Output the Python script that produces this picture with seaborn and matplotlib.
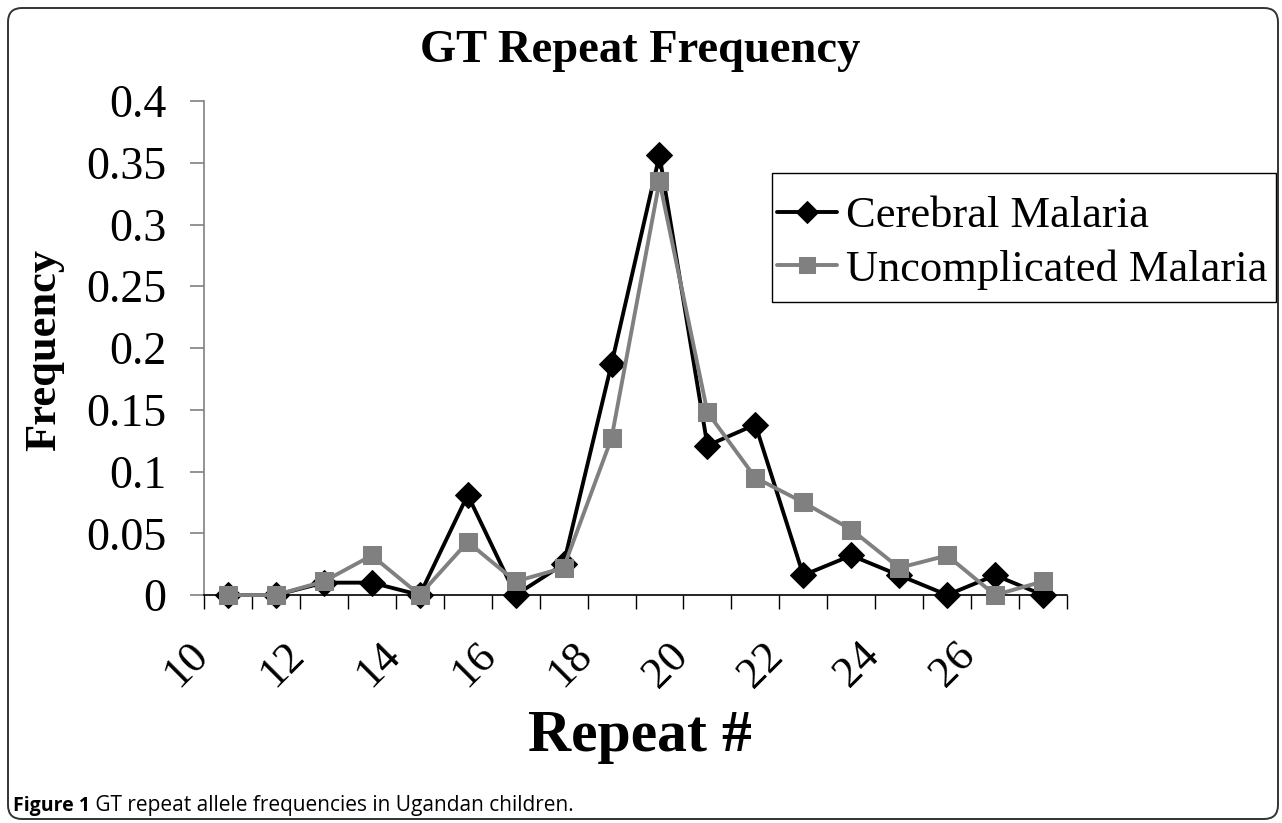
import matplotlib
matplotlib.use("Agg")
import matplotlib.pyplot as plt
import seaborn as sns
import pandas as pd
from matplotlib.patches import FancyBboxPatch, Rectangle
from matplotlib.transforms import ScaledTranslation
from matplotlib.ticker import FixedLocator, FixedFormatter

repeats = [10, 11, 12, 13, 14, 15, 16, 17, 18, 19, 20, 21, 22, 23, 24, 25, 26, 27]
cerebral = [0, 0, 0.010, 0.010, 0, 0.081, 0, 0.025, 0.187, 0.356, 0.121, 0.138,
            0.016, 0.032, 0.016, 0, 0.016, 0]
uncomplicated = [0, 0, 0.011, 0.032, 0, 0.043, 0.011, 0.022, 0.127, 0.335, 0.148, 0.095,
                 0.075, 0.053, 0.022, 0.032, 0, 0.011]
x_tick_values = [10, 12, 14, 16, 18, 20, 22, 24, 26]
y_tick_values = [0, 0.05, 0.1, 0.15, 0.2, 0.25, 0.3, 0.35, 0.4]
y_tick_labels = ["0", "0.05", "0.1", "0.15", "0.2", "0.25", "0.3", "0.35", "0.4"]
series_names = ["Cerebral Malaria", "Uncomplicated Malaria"]
title_text = "GT Repeat Frequency"
x_label = "Repeat #"
y_label = "Frequency"
caption_bold = "Figure 1"
caption_rest = " GT repeat allele frequencies in Ugandan children."

sns.set_style("white")
plt.rcParams["font.family"] = ["Liberation Serif", "DejaVu Serif"]
plt.rcParams["text.color"] = "black"
plt.rcParams["axes.labelcolor"] = "black"
plt.rcParams["xtick.color"] = "black"
plt.rcParams["ytick.color"] = "black"
plt.rcParams["xtick.labelcolor"] = "black"
plt.rcParams["ytick.labelcolor"] = "black"

W, H = 1282, 823
fig = plt.figure(figsize=(W / 100, H / 100), dpi=100)
ax = fig.add_axes([204 / W, 1 - 595 / H, (1067 - 204) / W, (595 - 101) / H])

df = pd.DataFrame({"repeat": repeats, "cm": cerebral, "um": uncomplicated})
sns.lineplot(data=df, x="repeat", y="cm", ax=ax, color="black", marker="D",
             markersize=13, markeredgecolor="black", markerfacecolor="black",
             linewidth=2.8, label=series_names[0], clip_on=False, zorder=3)
sns.lineplot(data=df, x="repeat", y="um", ax=ax, color="#808080", marker="s",
             markersize=13, markeredgecolor="#808080", markerfacecolor="#808080",
             linewidth=2.8, label=series_names[1], clip_on=False, zorder=4)

ax.set_xlim(repeats[0] - 0.5, repeats[-1] + 0.5)
ax.set_ylim(0, 0.4)
for s in ["top", "right"]:
    ax.spines[s].set_visible(False)
ax.spines["left"].set_color("#808080")
ax.spines["left"].set_linewidth(1.2)
ax.spines["bottom"].set_color("black")
ax.spines["bottom"].set_linewidth(1.2)

ax.yaxis.set_major_locator(FixedLocator(y_tick_values))
ax.yaxis.set_major_formatter(FixedFormatter(y_tick_labels))
ax.tick_params(axis="y", which="major", left=True, direction="out", length=10,
               width=1.2, color="#808080", labelsize=33, pad=17, labelcolor="black")

ax.set_xticks(x_tick_values)
ax.set_xticklabels([str(v) for v in x_tick_values])
ax.set_xticks([r - 0.5 for r in repeats] + [repeats[-1] + 0.5], minor=True)
ax.tick_params(axis="x", which="minor", bottom=True, direction="out", length=10,
               width=1.0, color="black")
ax.tick_params(axis="x", which="major", bottom=True, length=0, labelsize=32, pad=39,
               labelcolor="black")
for lbl in ax.get_xticklabels():
    lbl.set_rotation(45)
    lbl.set_ha("right")
    lbl.set_va("center")
    lbl.set_rotation_mode("anchor")
    lbl.set_transform(lbl.get_transform() + ScaledTranslation(-0.26, 0, fig.dpi_scale_trans))

ax.set_xlabel(x_label, fontsize=43, fontweight="bold")
ax.set_ylabel(y_label, fontsize=32, fontweight="bold")
ax.yaxis.set_label_coords(64 / W, 1 - 350 / H, transform=fig.transFigure)
ax.xaxis.set_label_coords(640 / W, 1 - 751 / H, transform=fig.transFigure)
ax.xaxis.label.set_va("baseline")

fig.text(640 / W, 1 - 62 / H, title_text, ha="center", va="baseline",
         fontsize=33.5, fontweight="bold")

# legend (frame drawn separately as a plain box)
ax.get_legend().remove()
handles, labels = ax.get_legend_handles_labels()
leg = fig.legend(handles, labels, loc="upper left",
                 bbox_to_anchor=(777 / W, 1 - 196 / H), fontsize=32,
                 frameon=False, handlelength=1.35, handletextpad=0.2,
                 borderpad=0, labelspacing=0.29, borderaxespad=0,
                 markerscale=0.85)
frame = Rectangle((772 / W, 1 - 302 / H), (1276 - 772) / W, (302 - 173) / H,
                  transform=fig.transFigure, fill=True, facecolor="white",
                  edgecolor="black", linewidth=1.0, zorder=0)
fig.patches.append(frame)

border = FancyBboxPatch((0.08, 0.04), 12.70, 8.11,
                        boxstyle="round,pad=0,rounding_size=0.14",
                        transform=fig.dpi_scale_trans, fill=False,
                        edgecolor="#333333", linewidth=1.4)
fig.patches.append(border)

cap_font = ["Open Sans", "DejaVu Sans"]
t1 = fig.text(13 / W, 1 - 811 / H, caption_bold, ha="left", va="baseline",
              fontsize=14, fontweight="bold", family=cap_font)
fig.canvas.draw()
bb = t1.get_window_extent(renderer=fig.canvas.get_renderer())
fig.text(bb.x1 / W, 1 - 811 / H, caption_rest, ha="left", va="baseline",
         fontsize=15, family=cap_font)

fig.savefig("out.png", dpi=100)
